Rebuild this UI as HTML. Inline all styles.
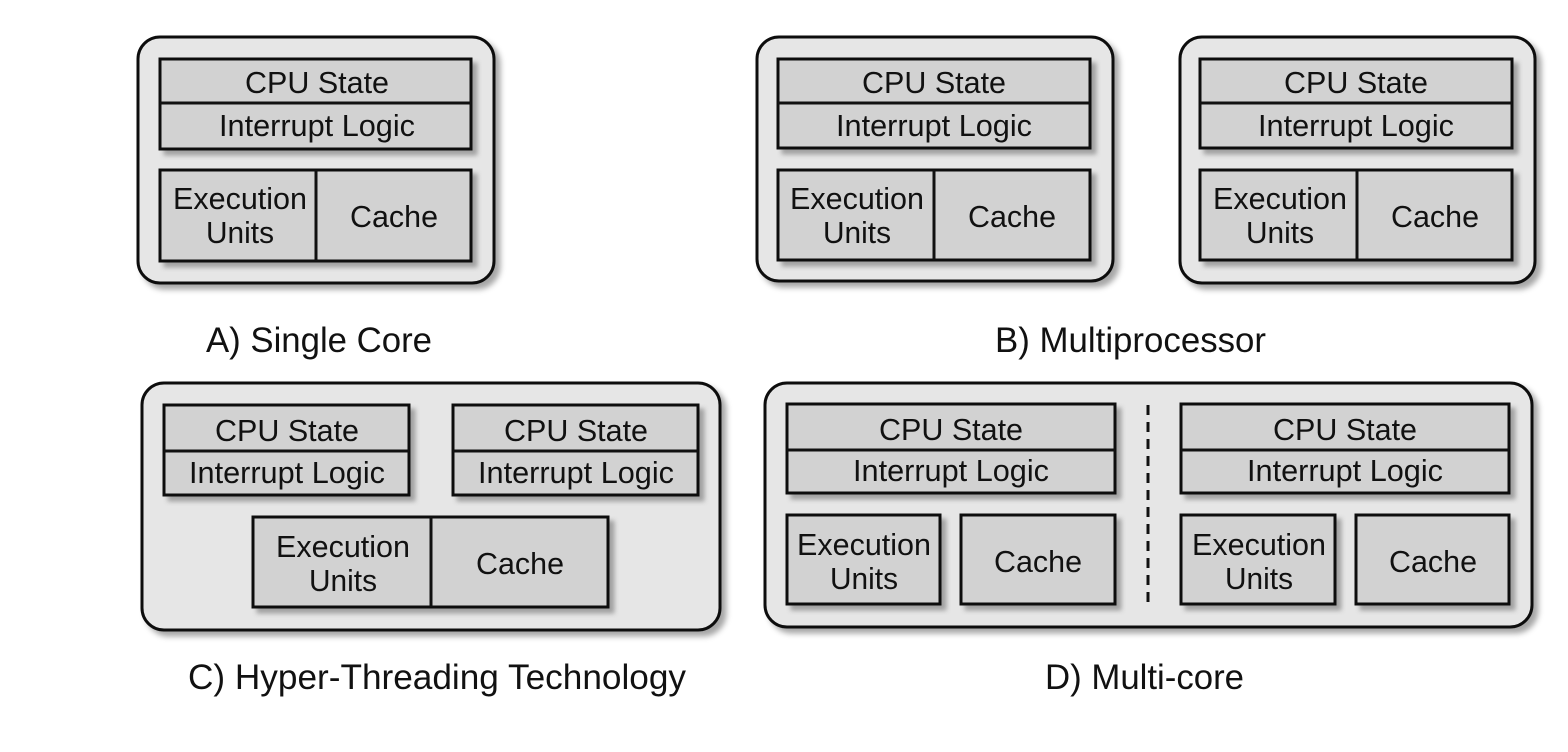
<!DOCTYPE html>
<html><head><meta charset="utf-8"><style>
html,body{margin:0;padding:0;background:#fff;}
svg{display:block;}
text{font-family:"Liberation Sans",Arial,sans-serif;fill:#111;}
.b{font-size:31px;}
.l{font-size:35px;}
.o{fill:#e6e6e6;stroke:#111;stroke-width:3;filter:url(#sh);}
.i{fill:#d2d2d2;stroke:#111;stroke-width:3;filter:url(#sh2);}
.ln{stroke:#111;stroke-width:3;}
</style></head><body>
<svg width="1568" height="752" viewBox="0 0 1568 752" xmlns="http://www.w3.org/2000/svg">
<defs>
<filter id="sh" x="-10%" y="-10%" width="125%" height="125%"><feDropShadow dx="5" dy="5" stdDeviation="3" flood-color="#000" flood-opacity="0.35"/></filter>
<filter id="sh2" x="-10%" y="-10%" width="125%" height="125%"><feDropShadow dx="5" dy="5" stdDeviation="2.5" flood-color="#000" flood-opacity="0.3"/></filter>
</defs>

<!-- A -->
<rect class="o" x="138" y="37" width="356" height="246" rx="22"/>
<rect class="i" x="160" y="59" width="311" height="90"/>
<line class="ln" x1="160" y1="103" x2="471" y2="103"/>
<rect class="i" x="160" y="170" width="311" height="91"/>
<line class="ln" x1="316" y1="170" x2="316" y2="261"/>
<text class="b" x="317" y="93" text-anchor="middle" textLength="144" lengthAdjust="spacingAndGlyphs">CPU State</text>
<text class="b" x="317" y="136" text-anchor="middle" textLength="196" lengthAdjust="spacingAndGlyphs">Interrupt Logic</text>
<text class="b" x="240" y="209" text-anchor="middle" textLength="134" lengthAdjust="spacingAndGlyphs">Execution</text>
<text class="b" x="240" y="243" text-anchor="middle" textLength="68" lengthAdjust="spacingAndGlyphs">Units</text>
<text class="b" x="394" y="227" text-anchor="middle" textLength="88" lengthAdjust="spacingAndGlyphs">Cache</text>
<text class="l" x="206" y="352" textLength="226" lengthAdjust="spacingAndGlyphs">A) Single Core</text>

<!-- B1 -->
<rect class="o" x="757" y="37" width="356" height="244" rx="22"/>
<rect class="i" x="778" y="59" width="312" height="89"/>
<line class="ln" x1="778" y1="103" x2="1090" y2="103"/>
<rect class="i" x="778" y="170" width="312" height="90"/>
<line class="ln" x1="934" y1="170" x2="934" y2="260"/>
<text class="b" x="934" y="93" text-anchor="middle" textLength="144" lengthAdjust="spacingAndGlyphs">CPU State</text>
<text class="b" x="934" y="136" text-anchor="middle" textLength="196" lengthAdjust="spacingAndGlyphs">Interrupt Logic</text>
<text class="b" x="857" y="209" text-anchor="middle" textLength="134" lengthAdjust="spacingAndGlyphs">Execution</text>
<text class="b" x="857" y="243" text-anchor="middle" textLength="68" lengthAdjust="spacingAndGlyphs">Units</text>
<text class="b" x="1012" y="227" text-anchor="middle" textLength="88" lengthAdjust="spacingAndGlyphs">Cache</text>

<!-- B2 -->
<rect class="o" x="1180" y="37" width="355" height="246" rx="22"/>
<rect class="i" x="1200" y="59" width="312" height="89"/>
<line class="ln" x1="1200" y1="103" x2="1512" y2="103"/>
<rect class="i" x="1200" y="170" width="312" height="90"/>
<line class="ln" x1="1357" y1="170" x2="1357" y2="260"/>
<text class="b" x="1356" y="93" text-anchor="middle" textLength="144" lengthAdjust="spacingAndGlyphs">CPU State</text>
<text class="b" x="1356" y="136" text-anchor="middle" textLength="196" lengthAdjust="spacingAndGlyphs">Interrupt Logic</text>
<text class="b" x="1280" y="209" text-anchor="middle" textLength="134" lengthAdjust="spacingAndGlyphs">Execution</text>
<text class="b" x="1280" y="243" text-anchor="middle" textLength="68" lengthAdjust="spacingAndGlyphs">Units</text>
<text class="b" x="1435" y="227" text-anchor="middle" textLength="88" lengthAdjust="spacingAndGlyphs">Cache</text>
<text class="l" x="995" y="352" textLength="271" lengthAdjust="spacingAndGlyphs">B) Multiprocessor</text>

<!-- C -->
<rect class="o" x="142" y="383" width="578" height="247" rx="22"/>
<rect class="i" x="164" y="405" width="245" height="90"/>
<line class="ln" x1="164" y1="451" x2="409" y2="451"/>
<rect class="i" x="453" y="405" width="245" height="90"/>
<line class="ln" x1="453" y1="451" x2="698" y2="451"/>
<rect class="i" x="253" y="517" width="355" height="90"/>
<line class="ln" x1="431" y1="517" x2="431" y2="607"/>
<text class="b" x="287" y="441" text-anchor="middle" textLength="144" lengthAdjust="spacingAndGlyphs">CPU State</text>
<text class="b" x="287" y="483" text-anchor="middle" textLength="196" lengthAdjust="spacingAndGlyphs">Interrupt Logic</text>
<text class="b" x="576" y="441" text-anchor="middle" textLength="144" lengthAdjust="spacingAndGlyphs">CPU State</text>
<text class="b" x="576" y="483" text-anchor="middle" textLength="196" lengthAdjust="spacingAndGlyphs">Interrupt Logic</text>
<text class="b" x="343" y="557" text-anchor="middle" textLength="134" lengthAdjust="spacingAndGlyphs">Execution</text>
<text class="b" x="343" y="591" text-anchor="middle" textLength="68" lengthAdjust="spacingAndGlyphs">Units</text>
<text class="b" x="520" y="574" text-anchor="middle" textLength="88" lengthAdjust="spacingAndGlyphs">Cache</text>
<text class="l" x="188" y="689" textLength="498" lengthAdjust="spacingAndGlyphs">C) Hyper-Threading Technology</text>

<!-- D -->
<rect class="o" x="765" y="383" width="767" height="244" rx="22"/>
<rect class="i" x="787" y="404" width="328" height="89"/>
<line class="ln" x1="787" y1="450" x2="1115" y2="450"/>
<rect class="i" x="787" y="515" width="153" height="89"/>
<rect class="i" x="961" y="515" width="154" height="89"/>
<line x1="1148" y1="405" x2="1148" y2="602" stroke="#111" stroke-width="3" stroke-dasharray="10,7"/>
<rect class="i" x="1181" y="404" width="328" height="89"/>
<line class="ln" x1="1181" y1="450" x2="1509" y2="450"/>
<rect class="i" x="1181" y="515" width="154" height="89"/>
<rect class="i" x="1356" y="515" width="153" height="89"/>
<text class="b" x="951" y="440" text-anchor="middle" textLength="144" lengthAdjust="spacingAndGlyphs">CPU State</text>
<text class="b" x="951" y="481" text-anchor="middle" textLength="196" lengthAdjust="spacingAndGlyphs">Interrupt Logic</text>
<text class="b" x="864" y="555" text-anchor="middle" textLength="134" lengthAdjust="spacingAndGlyphs">Execution</text>
<text class="b" x="864" y="589" text-anchor="middle" textLength="68" lengthAdjust="spacingAndGlyphs">Units</text>
<text class="b" x="1038" y="572" text-anchor="middle" textLength="88" lengthAdjust="spacingAndGlyphs">Cache</text>
<text class="b" x="1345" y="440" text-anchor="middle" textLength="144" lengthAdjust="spacingAndGlyphs">CPU State</text>
<text class="b" x="1345" y="481" text-anchor="middle" textLength="196" lengthAdjust="spacingAndGlyphs">Interrupt Logic</text>
<text class="b" x="1259" y="555" text-anchor="middle" textLength="134" lengthAdjust="spacingAndGlyphs">Execution</text>
<text class="b" x="1259" y="589" text-anchor="middle" textLength="68" lengthAdjust="spacingAndGlyphs">Units</text>
<text class="b" x="1433" y="572" text-anchor="middle" textLength="88" lengthAdjust="spacingAndGlyphs">Cache</text>
<text class="l" x="1045" y="689" textLength="199" lengthAdjust="spacingAndGlyphs">D) Multi-core</text>
</svg>
</body></html>
